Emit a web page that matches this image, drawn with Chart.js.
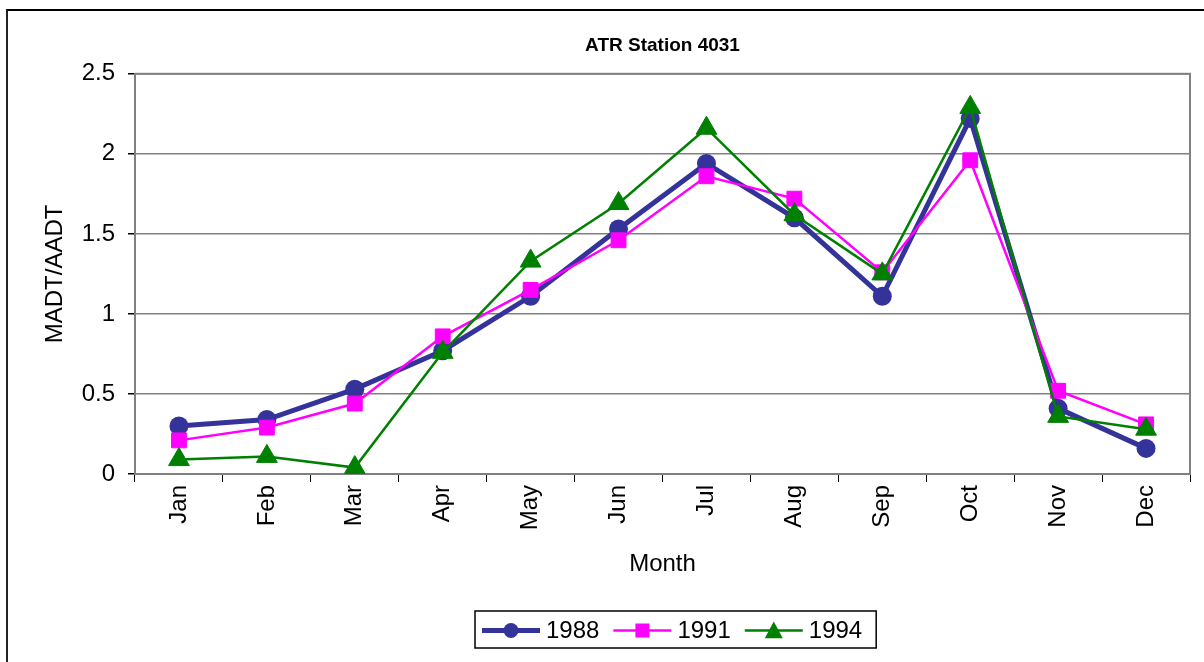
<!DOCTYPE html>
<html>
<head>
<meta charset="utf-8">
<title>ATR Station 4031</title>
<script src="https://cdn.jsdelivr.net/npm/chart.js@4.4.0/dist/chart.umd.min.js"></script>
<style>
  html, body { margin: 0; padding: 0; background: #fff; overflow: hidden; }
  #wrap { position: relative; width: 1204px; height: 662px; }
  #frame { position: absolute; left: 6px; top: 9px; right: -10px; bottom: -10px;
           border-top: 2px solid #000; border-left: 2px solid #222; }
  #stats { position: absolute; left: 0; top: 0; }
</style>
</head>
<body>
<div id="wrap">
  <div id="frame"></div>
  <canvas id="stats" width="1204" height="662"></canvas>
</div>
<script>
const months = ['Jan', 'Feb', 'Mar', 'Apr', 'May', 'Jun', 'Jul', 'Aug', 'Sep', 'Oct', 'Nov', 'Dec']
const y1988 = [0.30, 0.34, 0.53, 0.77, 1.11, 1.53, 1.94, 1.60, 1.11, 2.22, 0.41, 0.16]
const y1991 = [0.21, 0.29, 0.44, 0.86, 1.15, 1.46, 1.86, 1.72, 1.26, 1.96, 0.52, 0.31]
const y1994 = [0.09, 0.11, 0.04, 0.76, 1.33, 1.69, 2.16, 1.62, 1.25, 2.29, 0.36, 0.28]
const yTicks = [0, 0.5, 1, 1.5, 2, 2.5]

const FONT = "'Liberation Sans', Arial, sans-serif"

// gray box round the plot area (left and bottom get covered by the axes)
const plotBorder = {
    id: 'plotBorder',
    beforeDatasetsDraw(chart) {
        const {ctx, chartArea: a} = chart
        ctx.save()
        ctx.strokeStyle = '#808080'
        ctx.lineWidth = 2
        ctx.strokeRect(a.left, a.top, a.right - a.left, a.bottom - a.top)
        ctx.restore()
    }
}

function marker(ctx, style, x, y, r, color) {
    ctx.fillStyle = color
    ctx.beginPath()
    if (style === 'circle') {
        ctx.arc(x, y, r, 0, Math.PI * 2)
    } else if (style === 'rect') {
        ctx.rect(x - r, y - r, r * 2, r * 2)
    } else {
        ctx.moveTo(x, y - r)
        ctx.lineTo(x + r, y + r * 0.85)
        ctx.lineTo(x - r, y + r * 0.85)
        ctx.closePath()
    }
    ctx.fill()
}

// excel style legend: line sample with marker, boxed
const lineLegend = {
    id: 'lineLegend',
    afterDraw(chart) {
        const ctx = chart.ctx
        const sets = chart.data.datasets
        const sizes = [7.5, 7, 9]
        ctx.save()
        ctx.font = '24px ' + FONT
        ctx.textBaseline = 'middle'
        const boxLeft = 475, boxTop = 611, boxH = 37
        let x = boxLeft + 7
        const cy = boxTop + boxH / 2 + 1
        sets.forEach((ds, i) => {
            ctx.strokeStyle = ds.borderColor
            ctx.lineWidth = ds.borderWidth
            ctx.beginPath()
            ctx.moveTo(x, cy)
            ctx.lineTo(x + 58, cy)
            ctx.stroke()
            marker(ctx, ds.pointStyle, x + 29, cy, sizes[i], ds.borderColor)
            x += 64
            ctx.fillStyle = '#000'
            ctx.fillText(ds.label, x, cy + 1)
            x += ctx.measureText(ds.label).width + 14
        })
        ctx.strokeStyle = '#000'
        ctx.lineWidth = 1.5
        ctx.strokeRect(boxLeft, boxTop, x - boxLeft, boxH)
        ctx.restore()
    }
}

const chart = new Chart(document.getElementById('stats').getContext('2d'), {
    type: 'line',
    data: {
        labels: months,
        datasets: [{
            label: '1988',
            data: y1988,
            borderColor: '#333399',
            backgroundColor: '#333399',
            borderWidth: 5,
            pointStyle: 'circle',
            pointRadius: 9.5,
            pointBorderWidth: 0,
            order: 3
        }, {
            label: '1991',
            data: y1991,
            borderColor: '#ff00ff',
            backgroundColor: '#ff00ff',
            borderWidth: 2.5,
            pointStyle: 'rect',
            pointRadius: 10.5,
            pointBorderWidth: 1,
            order: 2
        }, {
            label: '1994',
            data: y1994,
            borderColor: '#008000',
            backgroundColor: '#008000',
            borderWidth: 2.5,
            pointStyle: 'triangle',
            pointRadius: 12,
            pointBorderWidth: 1,
            order: 1
        }]
    },
    options: {
        responsive: false,
        animation: false,
        layout: {
            padding: {left: 20, right: 14, top: 10, bottom: 78}
        },
        elements: {
            line: { tension: 0 }
        },
        plugins: {
            legend: { display: false },
            tooltip: { enabled: false },
            title: {
                display: true,
                text: 'ATR Station 4031',
                color: '#000',
                fullSize: false,
                font: { family: FONT, size: 19, weight: 'bold' },
                padding: { top: 24, bottom: 17 }
            }
        },
        scales: {
            x: {
                offset: true,
                afterFit(scale) { scale.height = 110 },
                grid: {
                    offset: true,
                    drawOnChartArea: false,
                    tickLength: 8,
                    tickColor: '#000'
                },
                border: { color: '#000', width: 1.5 },
                ticks: {
                    color: '#000',
                    autoSkip: false,
                    minRotation: 90,
                    maxRotation: 90,
                    padding: 3,
                    font: { family: FONT, size: 24 }
                },
                title: {
                    display: true,
                    text: 'Month',
                    color: '#000',
                    font: { family: FONT, size: 24 },
                    padding: { top: 0, bottom: 5 }
                }
            },
            y: {
                min: 0,
                max: 2.5,
                afterFit(scale) { scale.width = 115 },
                afterBuildTicks(scale) { scale.ticks = yTicks.map(v => ({value: v})) },
                grid: {
                    color: '#808080',
                    lineWidth: 1.5,
                    tickLength: 7,
                    tickColor: '#000'
                },
                border: { color: '#000', width: 1.5 },
                ticks: {
                    color: '#000',
                    padding: 13,
                    callback: v => String(v),
                    font: { family: FONT, size: 24 }
                },
                title: {
                    display: true,
                    text: 'MADT/AADT',
                    color: '#000',
                    font: { family: FONT, size: 24 },
                    padding: { top: 21, bottom: 0 }
                }
            }
        }
    },
    plugins: [plotBorder, lineLegend]
})
</script>
</body>
</html>
